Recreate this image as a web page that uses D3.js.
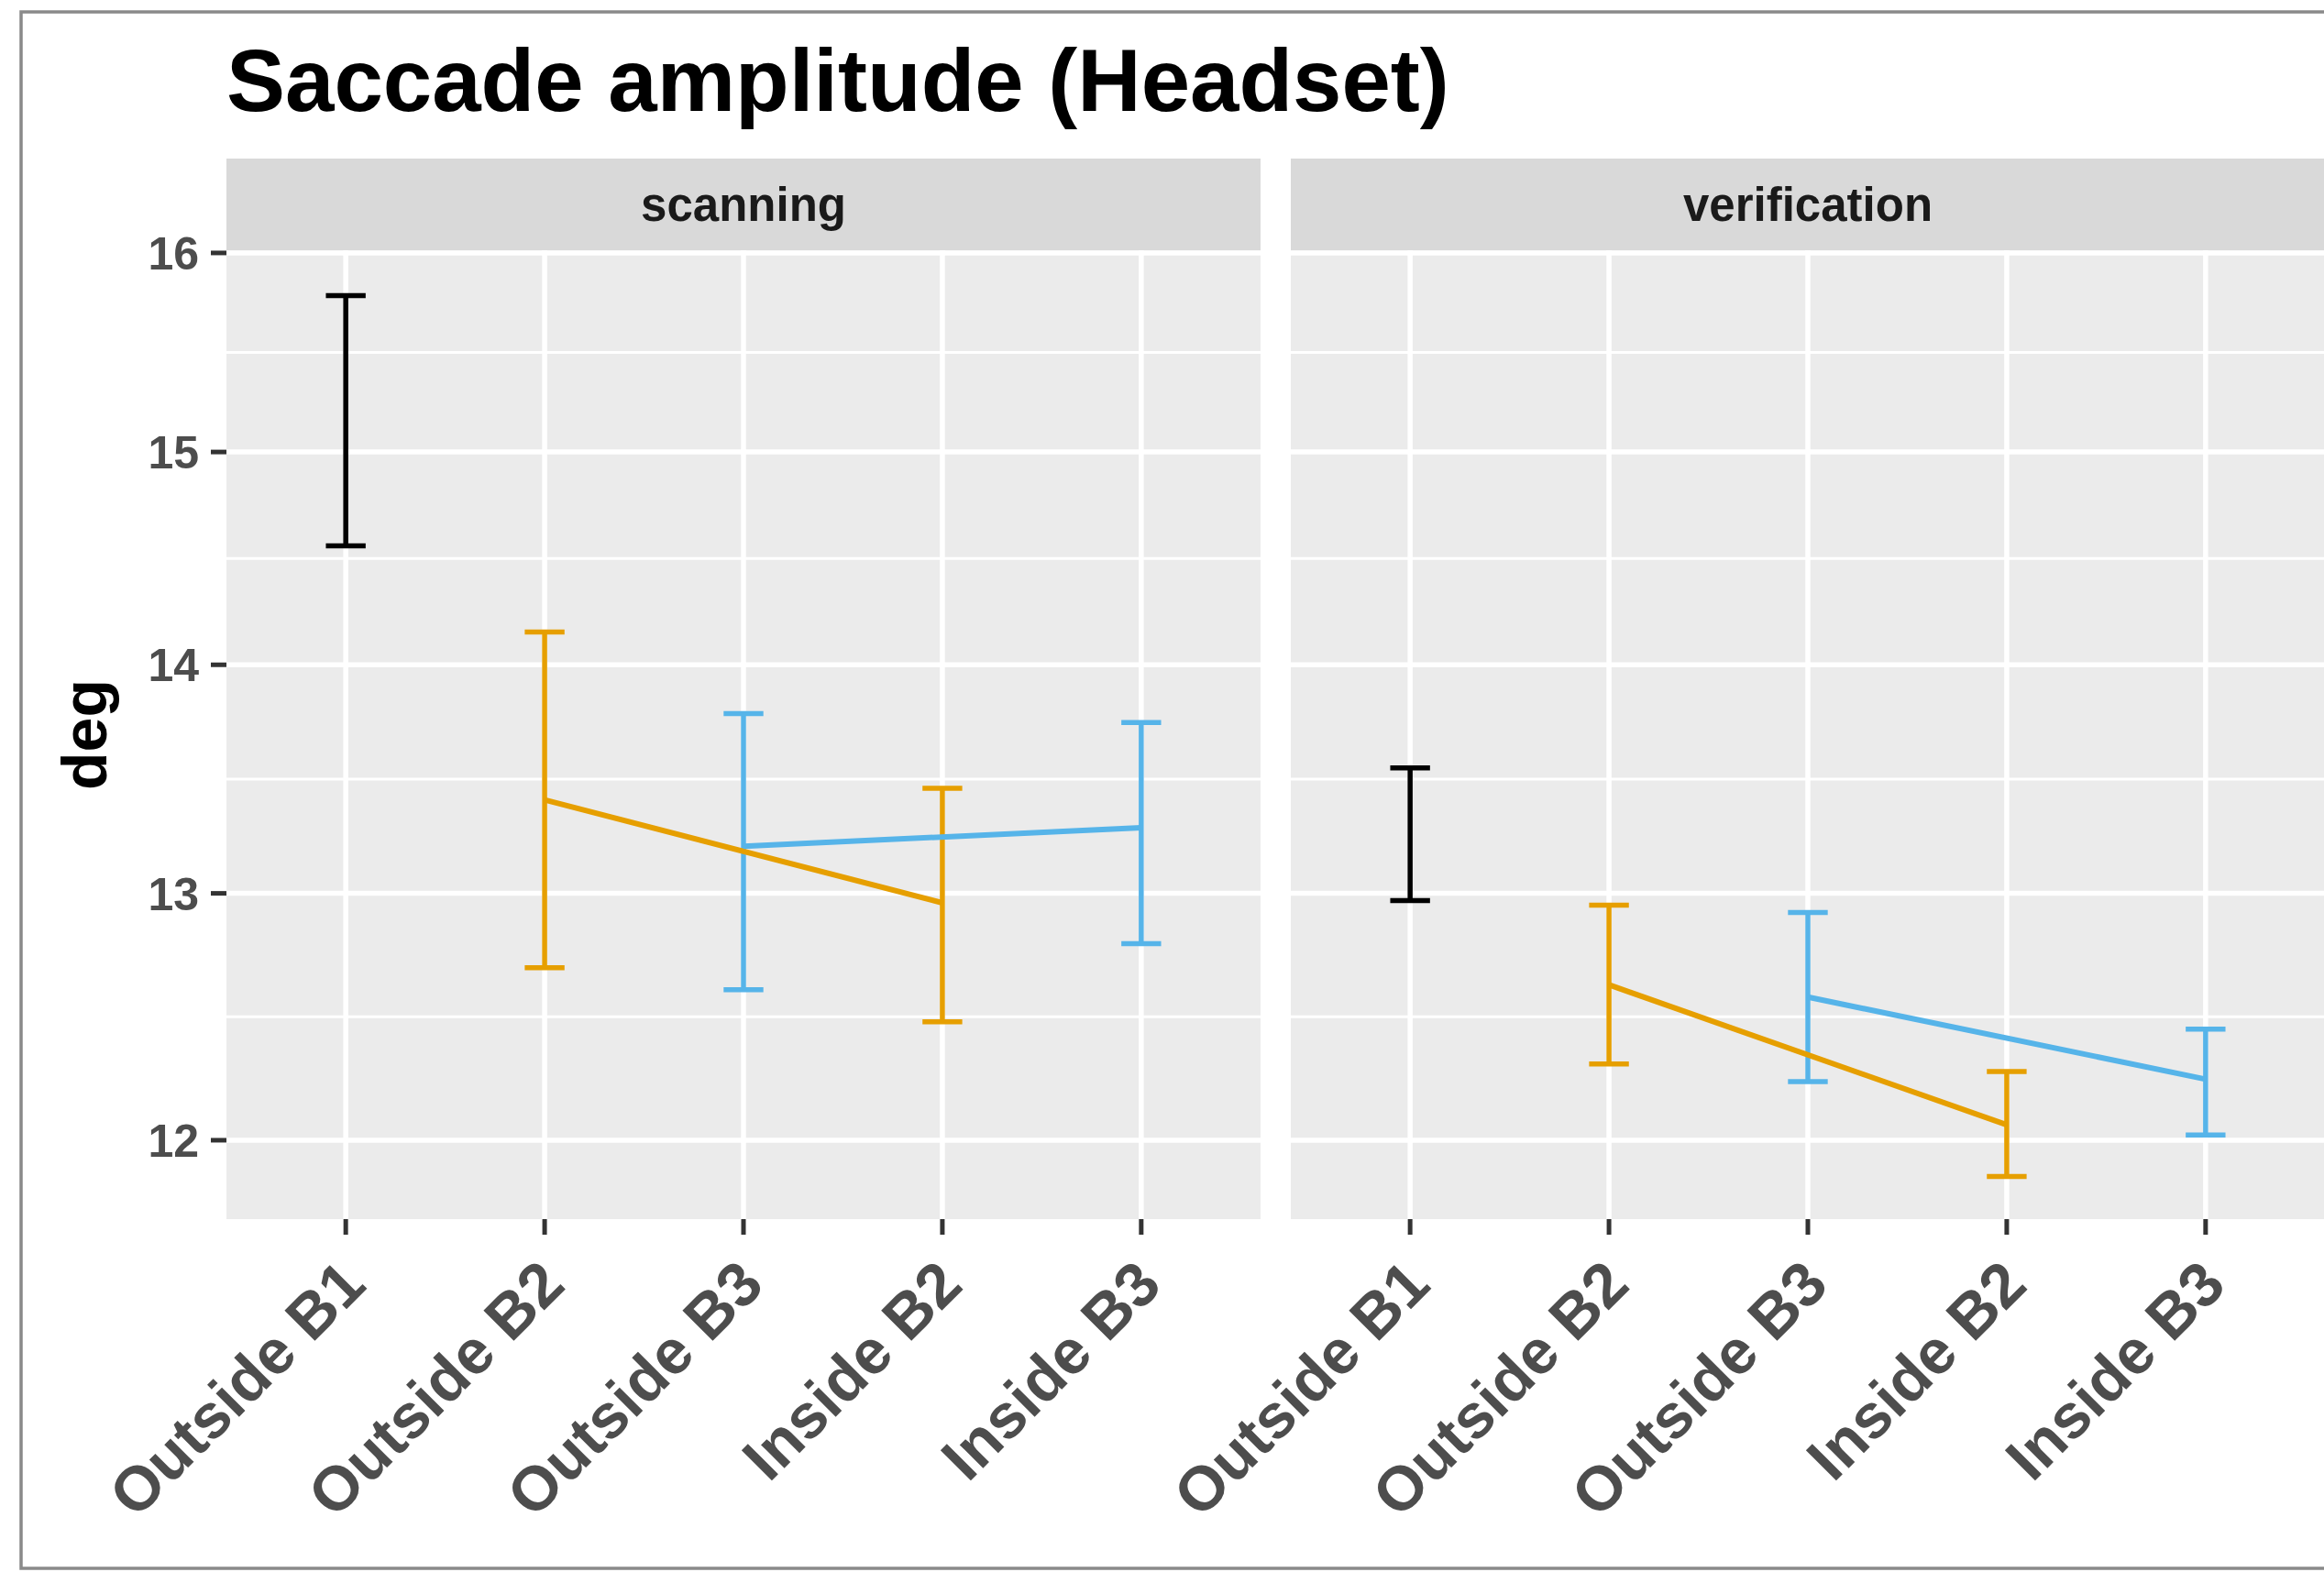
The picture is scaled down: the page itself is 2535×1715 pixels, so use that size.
<!DOCTYPE html>
<html>
<head>
<meta charset="utf-8">
<script src="https://cdn.jsdelivr.net/npm/d3@7"></script>
<style>
  html, body { margin: 0; padding: 0; background: #ffffff; }
  svg { display: block; }
  text { font-family: "Liberation Sans", Arial, Helvetica, sans-serif; }
</style>
</head>
<body>
<script>
// ---- data ----------------------------------------------------------------
const categories = ["Outside B1", "Outside B2", "Outside B3", "Inside B2", "Inside B3"];
const groupOf    = ["B1", "B2", "B3", "B2", "B3"];
const facets     = ["scanning", "verification"];

const scanningMean = [15.15, 13.40, 13.20, 12.96, 13.28];
const scanningLow  = [14.55, 12.69, 12.60, 12.47, 12.79];
const scanningHigh = [15.78, 14.15, 13.78, 13.45, 13.74];

const verificationMean = [13.25, 12.62, 12.57, 12.06, 12.24];
const verificationLow  = [12.97, 12.30, 12.23, 11.86, 12.02];
const verificationHigh = [13.54, 12.95, 12.92, 12.27, 12.44];

const yTicks = [12, 13, 14, 15, 16];
const groupColors = { B1: "#000000", B2: "#E69F00", B3: "#56B4E9" };

const titleText = "Saccade amplitude (Headset)";
const yTitle = "deg";

// ---- layout --------------------------------------------------------------
const W = 2535, H = 1715;
const panelTop = 273, panelBottom = 1330;
const stripTop = 173;
const panels = [
  { name: facets[0], x0: 247,  x1: 1375, mean: scanningMean, low: scanningLow, high: scanningHigh },
  { name: facets[1], x0: 1408, x1: 2536, mean: verificationMean, low: verificationLow, high: verificationHigh }
];

const svg = d3.select("body").append("svg")
  .attr("width", W).attr("height", H)
  .attr("viewBox", `0 0 ${W} ${H}`);

svg.append("rect").attr("width", W).attr("height", H).attr("fill", "#ffffff");

// outer frame
svg.append("rect")
  .attr("x", 23).attr("y", 13).attr("width", W + 20).attr("height", 1698)
  .attr("fill", "none").attr("stroke", "#8a8a8a").attr("stroke-width", 3.5);

// log-scaled y
const y = d3.scaleLog().domain([11.697, 16.014]).range([panelBottom, panelTop]);

// minor breaks: midpoints between majors in log space
const yMinor = d3.pairs(yTicks).map(([a, b]) => Math.sqrt(a * b));

panels.forEach((p, pi) => {
  const x = d3.scalePoint().domain(categories).range([p.x0, p.x1]).padding(0.6);
  const g = svg.append("g");

  // panel background
  g.append("rect")
    .attr("x", p.x0).attr("y", panelTop)
    .attr("width", p.x1 - p.x0).attr("height", panelBottom - panelTop)
    .attr("fill", "#EBEBEB");

  // minor grid
  g.selectAll(".minor").data(yMinor).join("line")
    .attr("x1", p.x0).attr("x2", p.x1)
    .attr("y1", d => y(d)).attr("y2", d => y(d))
    .attr("stroke", "#ffffff").attr("stroke-width", 3);

  // major grid (horizontal)
  g.selectAll(".majorY").data(yTicks).join("line")
    .attr("x1", p.x0).attr("x2", p.x1)
    .attr("y1", d => y(d)).attr("y2", d => y(d))
    .attr("stroke", "#ffffff").attr("stroke-width", 5.5);

  // major grid (vertical)
  g.selectAll(".majorX").data(categories).join("line")
    .attr("x1", d => x(d)).attr("x2", d => x(d))
    .attr("y1", panelTop).attr("y2", panelBottom)
    .attr("stroke", "#ffffff").attr("stroke-width", 5.5);

  // strip
  g.append("rect")
    .attr("x", p.x0).attr("y", stripTop)
    .attr("width", p.x1 - p.x0).attr("height", panelTop - stripTop)
    .attr("fill", "#D9D9D9");
  g.append("text")
    .attr("x", (p.x0 + p.x1) / 2).attr("y", (stripTop + panelTop) / 2)
    .attr("dy", "0.36em")
    .attr("text-anchor", "middle")
    .attr("font-size", 51).attr("font-weight", "bold")
    .attr("fill", "#1A1A1A")
    .text(p.name);

  // rows
  const rows = categories.map((c, i) => ({
    cat: c, group: groupOf[i], mean: p.mean[i], low: p.low[i], high: p.high[i]
  }));

  // error bars
  const capHalf = x.step() * 0.1;
  const eb = g.selectAll(".eb").data(rows).join("g")
    .attr("stroke", d => groupColors[d.group])
    .attr("stroke-width", 5.5)
    .attr("fill", "none");
  eb.append("line")
    .attr("x1", d => x(d.cat)).attr("x2", d => x(d.cat))
    .attr("y1", d => y(d.low)).attr("y2", d => y(d.high));
  eb.append("line")
    .attr("x1", d => x(d.cat) - capHalf).attr("x2", d => x(d.cat) + capHalf)
    .attr("y1", d => y(d.high)).attr("y2", d => y(d.high));
  eb.append("line")
    .attr("x1", d => x(d.cat) - capHalf).attr("x2", d => x(d.cat) + capHalf)
    .attr("y1", d => y(d.low)).attr("y2", d => y(d.low));

  // lines joining means of the same group
  const line = d3.line().x(d => x(d.cat)).y(d => y(d.mean));
  const grouped = d3.groups(rows, d => d.group).filter(([, v]) => v.length > 1);
  g.selectAll(".ln").data(grouped).join("path")
    .attr("d", ([, v]) => line(v))
    .attr("fill", "none")
    .attr("stroke", ([k]) => groupColors[k])
    .attr("stroke-width", 6)
    .attr("stroke-linejoin", "round");

  // x axis ticks and labels
  g.selectAll(".xt").data(categories).join("line")
    .attr("x1", d => x(d)).attr("x2", d => x(d))
    .attr("y1", panelBottom).attr("y2", panelBottom + 17)
    .attr("stroke", "#333333").attr("stroke-width", 5);
  g.selectAll(".xl").data(categories).join("text")
    .attr("transform", d => `translate(${x(d) - 10},${panelBottom + 40}) rotate(-45)`)
    .attr("text-anchor", "end")
    .attr("dy", "0.72em")
    .attr("font-size", 68).attr("font-weight", "bold")
    .attr("fill", "#4D4D4D")
    .text(d => d);

  // y axis on the first panel only
  if (pi === 0) {
    g.selectAll(".yt").data(yTicks).join("line")
      .attr("x1", p.x0 - 17).attr("x2", p.x0)
      .attr("y1", d => y(d)).attr("y2", d => y(d))
      .attr("stroke", "#333333").attr("stroke-width", 5);
    g.selectAll(".yl").data(yTicks).join("text")
      .attr("x", p.x0 - 30).attr("y", d => y(d))
      .attr("dy", "0.36em")
      .attr("text-anchor", "end")
      .attr("font-size", 50).attr("font-weight", "bold")
      .attr("fill", "#4D4D4D")
      .text(d => d3.format("d")(d));
  }
});

// y axis title
svg.append("text")
  .attr("transform", `translate(92,${(panelTop + panelBottom) / 2}) rotate(-90)`)
  .attr("text-anchor", "middle")
  .attr("dy", "0.36em")
  .attr("font-size", 68).attr("font-weight", "bold")
  .attr("fill", "#000000")
  .text(yTitle);

// title
svg.append("text")
  .attr("x", 247).attr("y", 121)
  .attr("font-size", 96).attr("font-weight", "bold")
  .attr("fill", "#000000")
  .text(titleText);
</script>
</body>
</html>
